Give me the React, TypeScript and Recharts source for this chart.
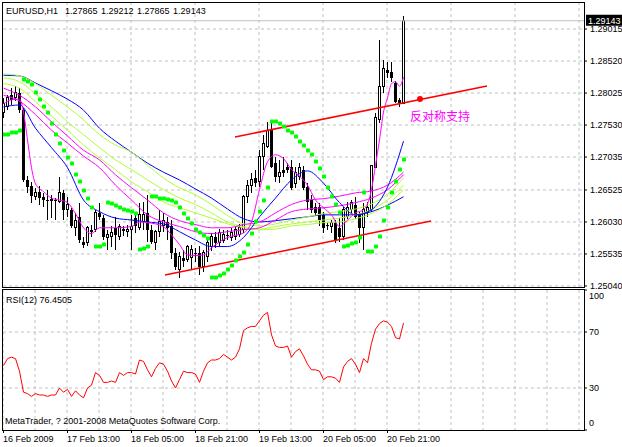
import React from 'react'
import {
  ComposedChart,
  LineChart,
  Line,
  Bar,
  Scatter,
  XAxis,
  YAxis,
  CartesianGrid,
  ReferenceLine,
  ReferenceDot,
} from 'recharts'

// EURUSD H1 bars, 16 Feb 2009 .. 20 Feb 2009
const opens = [
  1.2773, 1.2782, 1.2799, 1.2795, 1.2803, 1.2776, 1.2668, 1.2659, 1.2642, 1.265,
  1.2642, 1.2637, 1.2636, 1.2637, 1.2634, 1.2648, 1.2622, 1.2622, 1.2594, 1.2611,
  1.2572, 1.2571, 1.2591, 1.2591, 1.2617, 1.2609, 1.2579, 1.258, 1.2594, 1.258,
  1.2592, 1.2588, 1.2592, 1.2609, 1.2594, 1.2603, 1.2617, 1.2591, 1.2572, 1.2588,
  1.2597, 1.2603, 1.2596, 1.2555, 1.2529, 1.2548, 1.2545, 1.2548, 1.2555, 1.2555,
  1.2534, 1.2549, 1.2565, 1.2579, 1.2571, 1.2575, 1.2583, 1.2579, 1.258, 1.2583,
  1.2591, 1.2642, 1.266, 1.2671, 1.2665, 1.2704, 1.2719, 1.2745, 1.2694, 1.2673,
  1.2684, 1.2688, 1.2688, 1.2663, 1.2673, 1.2684, 1.2657, 1.2637, 1.2626, 1.2626,
  1.2614, 1.2599, 1.2596, 1.2602, 1.2594, 1.258, 1.2611, 1.2622, 1.263, 1.2614,
  1.2594, 1.2617, 1.2622, 1.2688, 1.2761, 1.2812, 1.2838, 1.2835, 1.2818, 1.2792,
  1.27865,
]
const highs = [
  1.2795, 1.2799, 1.281, 1.2813, 1.281, 1.2779, 1.2674, 1.2665, 1.2656, 1.2659,
  1.2648, 1.2653, 1.2645, 1.264, 1.2673, 1.2653, 1.2642, 1.2625, 1.2617, 1.2633,
  1.2579, 1.2597, 1.2599, 1.2622, 1.2633, 1.2614, 1.2591, 1.2596, 1.2611, 1.26,
  1.2597, 1.2599, 1.2614, 1.2617, 1.2633, 1.2634, 1.2645, 1.2599, 1.2591, 1.2622,
  1.2617, 1.2611, 1.2606, 1.2563, 1.2557, 1.256, 1.2568, 1.2568, 1.2563, 1.2566,
  1.256, 1.2579, 1.2586, 1.2588, 1.2592, 1.2591, 1.2591, 1.2594, 1.2597, 1.26,
  1.2645, 1.2668, 1.2679, 1.2684, 1.2714, 1.2738, 1.2758, 1.2761, 1.2704, 1.2699,
  1.2704, 1.2694, 1.2699, 1.2688, 1.2694, 1.269, 1.2663, 1.2645, 1.2633, 1.2633,
  1.2619, 1.2603, 1.2606, 1.2606, 1.2609, 1.2626, 1.2634, 1.2637, 1.2642, 1.2619,
  1.2633, 1.2634, 1.2691, 1.2772, 1.2885, 1.2854, 1.2851, 1.2851, 1.2821, 1.2795,
  1.29212,
]
const lows = [
  1.2764, 1.2776, 1.2784, 1.279, 1.2772, 1.2665, 1.2648, 1.2633, 1.2637, 1.263,
  1.2626, 1.2606, 1.2609, 1.2606, 1.2633, 1.2606, 1.2611, 1.2594, 1.2582, 1.2571,
  1.2562, 1.2566, 1.2579, 1.2588, 1.2606, 1.2575, 1.256, 1.2565, 1.256, 1.2575,
  1.2582, 1.2579, 1.256, 1.2586, 1.2591, 1.2591, 1.2572, 1.2569, 1.256, 1.258,
  1.2588, 1.2575, 1.2545, 1.2528, 1.2517, 1.2534, 1.2541, 1.2529, 1.2541, 1.2521,
  1.2526, 1.2541, 1.2558, 1.2563, 1.2566, 1.2571, 1.2575, 1.2574, 1.2575, 1.258,
  1.2586, 1.2633, 1.2648, 1.2657, 1.2657, 1.2684, 1.2718, 1.2687, 1.2665, 1.2663,
  1.2673, 1.2679, 1.2653, 1.2656, 1.2668, 1.2653, 1.2622, 1.2617, 1.2613, 1.2596,
  1.2586, 1.2591, 1.2586, 1.2571, 1.2572, 1.2575, 1.2608, 1.2617, 1.2608, 1.2571,
  1.256, 1.2611, 1.2619, 1.2687, 1.2756, 1.2803, 1.2826, 1.282, 1.2787, 1.2781,
  1.27865,
]
const closes = [
  1.2787, 1.2795, 1.2792, 1.2804, 1.2776, 1.2668, 1.2657, 1.2643, 1.2648, 1.264,
  1.2637, 1.2636, 1.2637, 1.2636, 1.2648, 1.2622, 1.263, 1.2597, 1.2606, 1.2575,
  1.2568, 1.2594, 1.2588, 1.2617, 1.2611, 1.258, 1.2583, 1.2586, 1.2583, 1.2596,
  1.2589, 1.2592, 1.2596, 1.2596, 1.2614, 1.2614, 1.2591, 1.2572, 1.2588, 1.2603,
  1.2605, 1.2594, 1.2555, 1.2534, 1.2549, 1.2543, 1.2565, 1.256, 1.2554, 1.2534,
  1.2555, 1.2571, 1.258, 1.2571, 1.2586, 1.2583, 1.2582, 1.2586, 1.2591, 1.2594,
  1.2642, 1.266, 1.2668, 1.2664, 1.2704, 1.2725, 1.2745, 1.2688, 1.2673, 1.268,
  1.2679, 1.2684, 1.2656, 1.268, 1.2688, 1.2656, 1.2634, 1.2622, 1.2617, 1.2606,
  1.2594, 1.2597, 1.2602, 1.2575, 1.2579, 1.2622, 1.2626, 1.2633, 1.2611, 1.2594,
  1.2622, 1.2626, 1.2691, 1.2764, 1.2812, 1.2841, 1.2834, 1.2826, 1.2789, 1.2787,
  1.29143,
]

// parabolic SAR, one dot per bar
const sar = [
  1.2738, 1.2739, 1.2741, 1.2742, 1.2745, 1.2824, 1.2821, 1.2815, 1.2804, 1.2793,
  1.2782, 1.2772, 1.2755, 1.2739, 1.2725, 1.2713, 1.2702, 1.2693, 1.2677, 1.2665,
  1.2651, 1.264, 1.2626, 1.2565, 1.2565, 1.2568, 1.2633, 1.2631, 1.2628, 1.2625,
  1.2623, 1.262, 1.2619, 1.2616, 1.256, 1.2562, 1.2565, 1.2642, 1.2642, 1.264,
  1.2639, 1.2637, 1.2636, 1.2633, 1.2625, 1.2616, 1.2608, 1.26, 1.2591, 1.2586,
  1.2582, 1.2577, 1.2517, 1.2517, 1.252, 1.2523, 1.2529, 1.2535, 1.2543, 1.2549,
  1.2555, 1.2568, 1.2585, 1.2603, 1.2619, 1.2636, 1.2656, 1.2759, 1.2759, 1.2755,
  1.275, 1.2745, 1.2741, 1.2735, 1.2727, 1.2721, 1.2713, 1.2707, 1.2696, 1.2685,
  1.2673, 1.2657, 1.2642, 1.263, 1.2617, 1.2565, 1.2566, 1.2569, 1.2571, 1.2579,
  1.2648, 1.2558, 1.2558, 1.2565, 1.258, 1.2605, 1.2626, 1.2648, 1.2665, 1.2684,
  1.2699,
]

// RSI(12)
const rsi = [
  46, 51, 52, 51, 42, 27, 26, 24, 26, 25,
  25, 24, 25, 25, 30, 27, 29, 24, 28, 25,
  23, 30, 32, 41, 39, 34, 34, 35, 34, 41,
  39, 41, 41, 40, 50, 49, 43, 38, 44, 48,
  47, 42, 35, 30, 36, 42, 41, 41, 40, 34,
  42, 48, 50, 50, 51, 54, 52, 50, 52, 58,
  71, 73, 74, 74, 78, 82, 84, 68, 60, 59,
  59, 60, 52, 56, 58, 53, 47, 43, 43, 42,
  36, 38, 38, 37, 34, 45, 49, 51, 47, 41,
  51, 48, 62, 72, 76, 78, 77, 74, 66, 65,
  76.4505,
]

// moving averages, read every 4th bar
const maIdx = [0, 4, 8, 12, 16, 20, 24, 28, 32, 36, 40, 44, 48, 52, 56, 60, 64, 68, 72, 76, 80, 84, 88, 92, 96, 100]
const blueSlow = [
  1.283, 1.2829, 1.2818, 1.2806, 1.2793, 1.2776, 1.2748, 1.2728, 1.2711, 1.2694, 1.268, 1.2668, 1.2654,
  1.264, 1.2623, 1.2608, 1.2603, 1.2605, 1.2608, 1.2611, 1.2614, 1.2614, 1.2614, 1.2619, 1.2629, 1.2642,
]
const blueMid = [
  1.2781, 1.2784, 1.2748, 1.2718, 1.2687, 1.2637, 1.2619, 1.2609, 1.2606, 1.2603, 1.26, 1.2588, 1.2575,
  1.2565, 1.2565, 1.2579, 1.2611, 1.264, 1.2668, 1.2682, 1.2663, 1.2633, 1.2614, 1.2622, 1.2657, 1.2728,
]
const magA = [
  1.281, 1.2799, 1.2781, 1.2758, 1.2736, 1.2714, 1.2699, 1.2676, 1.2656, 1.2637, 1.2617, 1.2605, 1.2599,
  1.2594, 1.2594, 1.2599, 1.2603, 1.2617, 1.263, 1.2637, 1.2639, 1.2643, 1.2648, 1.2651, 1.266, 1.268,
]
const magB = [
  1.2799, 1.279, 1.2769, 1.2745, 1.2725, 1.2705, 1.2687, 1.266, 1.2637, 1.2614, 1.2603, 1.2596, 1.2588,
  1.2585, 1.2588, 1.2591, 1.2594, 1.2606, 1.2619, 1.2623, 1.2625, 1.2628, 1.2633, 1.264, 1.2653, 1.2676,
]
const ygA = [
  1.2832, 1.2829, 1.2817, 1.2799, 1.2781, 1.2761, 1.2738, 1.2722, 1.2711, 1.2691, 1.2671, 1.2656, 1.2645,
  1.263, 1.2613, 1.26, 1.2597, 1.26, 1.2606, 1.2611, 1.2616, 1.2619, 1.2623, 1.2631, 1.2646, 1.2671,
]
const ygB = [
  1.2826, 1.282, 1.2801, 1.2781, 1.2758, 1.2738, 1.2718, 1.2699, 1.2684, 1.2668, 1.2653, 1.264, 1.263,
  1.2617, 1.2603, 1.2596, 1.2592, 1.2596, 1.26, 1.2603, 1.2606, 1.2609, 1.2614, 1.2622, 1.2637, 1.266,
]
const ygC = [
  1.2817, 1.281, 1.2789, 1.2767, 1.2745, 1.2722, 1.2702, 1.2684, 1.2665, 1.265, 1.2634, 1.2625, 1.2617,
  1.2609, 1.26, 1.2594, 1.2591, 1.2592, 1.2597, 1.2599, 1.2602, 1.2603, 1.2608, 1.2616, 1.263, 1.2653,
]
const fastIdx = [
  0, 2, 4, 5, 6, 7, 8, 10, 12, 14, 16, 18, 20, 22, 24, 28, 32, 34, 36, 40, 42, 44, 46, 48, 50, 52,
  56, 60, 62, 64, 66, 68, 70, 72, 74, 76, 78, 80, 82, 84, 86, 88, 90, 92, 93, 94, 95, 96, 97, 98, 99, 100,
]
const magFast = [
  1.2786, 1.2792, 1.2793, 1.2773, 1.273, 1.2687, 1.2662, 1.265, 1.264, 1.2637, 1.2633, 1.2616, 1.2594,
  1.2585, 1.2594, 1.2594, 1.2596, 1.2603, 1.2602, 1.2596, 1.2583, 1.2568, 1.2552, 1.2551, 1.2552, 1.2563,
  1.2579, 1.2586, 1.2603, 1.2653, 1.2696, 1.2707, 1.2701, 1.2684, 1.2674, 1.266, 1.2637, 1.2625, 1.2614,
  1.2596, 1.2606, 1.2617, 1.2622, 1.2653, 1.2691, 1.273, 1.2773, 1.2795, 1.2817, 1.282, 1.2813, 1.2827,
]

// drawn objects (bar index, price)
const upperTrend = [{ x: 57.875, y: 1.27345 }, { x: 120.875, y: 1.28134 }]
const lowerTrend = [{ x: 40.375, y: 1.2521 }, { x: 106.875, y: 1.26045 }]
const markDot = { x: 104.125, y: 1.27933 }
const lastPrice = 1.29143

const priceTicks = [1.2504, 1.25535, 1.2603, 1.26525, 1.27035, 1.2753, 1.28025, 1.2852, 1.29015]
const rsiTicks = [0, 30, 70, 100]
const dateTickIdx = [0, 16, 32, 48, 64, 80, 96]
const dateLabels = ['16 Feb 2009', '17 Feb 13:00', '18 Feb 05:00', '18 Feb 21:00', '19 Feb 13:00', '20 Feb 05:00', '20 Feb 21:00']

const FONT = '"Liberation Sans", Arial, sans-serif'
const X_DOMAIN = [-0.125, 145.125]
const gridIdx = Array.from({ length: 19 }, (_, k) => k * 8 - 0.125)
const GRID = '#c0c0c0'

const rows: any[] = opens.map((o, i) => ({
  i,
  o,
  h: highs[i],
  l: lows[i],
  c: closes[i],
  range: [lows[i], highs[i]],
  sar: sar[i],
  rsi: rsi[i],
}))
const put = (key: string, idx: number[], vals: number[]) =>
  idx.forEach((ix, k) => {
    rows[ix][key] = vals[k]
  })
put('blueSlow', maIdx, blueSlow)
put('blueMid', maIdx, blueMid)
put('magA', maIdx, magA)
put('magB', maIdx, magB)
put('ygA', maIdx, ygA)
put('ygB', maIdx, ygB)
put('ygC', maIdx, ygC)
put('magFast', fastIdx, magFast)

const Candle = (props: any) => {
  const { x, y, width, height, payload } = props
  const { o, h, l, c } = payload
  const top0 = Math.min(y, y + height)
  const hh = Math.abs(height)
  const cx = x + width / 2
  const k = h > l ? hh / (h - l) : 0
  const top = top0 + (h - Math.max(o, c)) * k
  const bot = top0 + (h - Math.min(o, c)) * k
  const up = c >= o
  return (
    <g shapeRendering="crispEdges">
      <line x1={cx} x2={cx} y1={top0} y2={top0 + hh} stroke="#000" />
      {up ? (
        <rect x={cx - 1} y={top} width={2} height={Math.max(bot - top, 0.5)} fill="#fff" stroke="#000" />
      ) : (
        <rect x={cx - 1.5} y={top} width={3} height={Math.max(bot - top, 1)} fill="#000" />
      )}
    </g>
  )
}

const SarDot = (p: any) => (
  <rect
    x={Math.floor(p.cx) - 1}
    y={Math.floor(p.cy) - 1.5}
    width={4}
    height={4}
    rx={0.8}
    fill="#00ff00"
  />
)

const PriceTag = (p: any) => {
  const vb = p.viewBox
  const x = vb.x + vb.width
  const y = vb.y
  return (
    <g>
      <rect x={x + 2} y={y - 6} width={36} height={11} fill="#000" />
      <text x={x + 4} y={y + 3} fill="#fff" fontSize={9} fontFamily={FONT}>
        {lastPrice.toFixed(5)}
      </text>
    </g>
  )
}

const DateTick = (p: any) => {
  const { x, y, payload } = p
  const n = dateTickIdx.indexOf(payload.value)
  return (
    <g>
      <line x1={x - 0.5} x2={x - 0.5} y1={y} y2={y + 3} stroke="#000" shapeRendering="crispEdges" />
      <text x={x - 0.5} y={y + 12} fontSize={9} fontFamily={FONT} fill="#000">
        {n >= 0 ? dateLabels[n] : ''}
      </text>
    </g>
  )
}

const RsiTick = (p: any) => {
  const { x, y, payload } = p
  const v = payload.value
  const dy = v === 100 ? 6 : v === 0 ? -7 : 0
  return (
    <text x={x} y={y + dy + 3} fontSize={9} fontFamily={FONT} fill="#000">
      {v}
    </text>
  )
}

const txt = (left: number, top: number, extra: any = {}) => ({
  position: 'absolute' as const,
  left,
  top,
  fontFamily: FONT,
  fontSize: 9,
  lineHeight: '10px',
  whiteSpace: 'pre' as const,
  color: '#000',
  ...extra,
})

const frame = (left: number, top: number, width: number, height: number) => ({
  position: 'absolute' as const,
  left,
  top,
  width,
  height,
  border: '1px solid #000',
  boxSizing: 'border-box' as const,
  pointerEvents: 'none' as const,
})

export default function App() {
  return (
    <div style={{ position: 'absolute', left: 0, top: 0, width: 622, height: 447, background: '#fff', overflow: 'hidden' }}>
      <div style={{ position: 'absolute', left: 0, top: 0 }}>
        <ComposedChart width={622} height={293} data={rows} margin={{ top: 2, right: 0, left: 3, bottom: 6 }}>
          <CartesianGrid
            stroke={GRID}
            strokeDasharray="3 3"
            verticalValues={gridIdx}
            horizontalValues={priceTicks}
          />
          <XAxis dataKey="i" type="number" domain={X_DOMAIN} allowDataOverflow hide ticks={gridIdx} />
          <YAxis
            orientation="right"
            width={38}
            domain={[1.25024, 1.29433]}
            allowDataOverflow
            ticks={priceTicks}
            interval={0}
            tickFormatter={(v: number) => v.toFixed(5)}
            axisLine={false}
            tickLine={{ stroke: '#000' }}
            tickSize={3}
            tickMargin={3}
            tick={{ fontSize: 9, fill: '#000', fontFamily: FONT }}
          />
          <ReferenceLine y={lastPrice} stroke={GRID} label={PriceTag} />
          <Bar dataKey="range" barSize={3} shape={Candle} isAnimationActive={false} />
          <Line dataKey="blueSlow" type="monotone" stroke="#0000ff" strokeWidth={1} dot={false} connectNulls isAnimationActive={false} />
          <Line dataKey="ygA" type="monotone" stroke="#adff2f" strokeWidth={1} dot={false} connectNulls isAnimationActive={false} />
          <Line dataKey="ygB" type="monotone" stroke="#adff2f" strokeWidth={1} dot={false} connectNulls isAnimationActive={false} />
          <Line dataKey="ygC" type="monotone" stroke="#adff2f" strokeWidth={1} dot={false} connectNulls isAnimationActive={false} />
          <Line dataKey="magA" type="monotone" stroke="#ff00ff" strokeWidth={1} dot={false} connectNulls isAnimationActive={false} />
          <Line dataKey="magB" type="monotone" stroke="#ff00ff" strokeWidth={1} dot={false} connectNulls isAnimationActive={false} />
          <Line dataKey="blueMid" type="monotone" stroke="#0000ff" strokeWidth={1} dot={false} connectNulls isAnimationActive={false} />
          <Line dataKey="magFast" type="monotone" stroke="#ff00ff" strokeWidth={1} dot={false} connectNulls isAnimationActive={false} />
          <Scatter dataKey="sar" shape={SarDot} isAnimationActive={false} />
          <ReferenceLine segment={upperTrend} stroke="#ff0000" strokeWidth={1.5} />
          <ReferenceLine segment={lowerTrend} stroke="#ff0000" strokeWidth={1.5} />
          <ReferenceDot x={markDot.x} y={markDot.y} r={3} fill="#ff0000" stroke="none" />
        </ComposedChart>
      </div>
      <div style={{ position: 'absolute', left: 0, top: 289 }}>
        <LineChart width={622} height={158} data={rows} margin={{ top: 1, right: 0, left: 3, bottom: 0 }}>
          <CartesianGrid stroke={GRID} strokeDasharray="3 3" verticalValues={gridIdx} horizontalValues={[30, 70]} />
          <XAxis
            dataKey="i"
            type="number"
            domain={X_DOMAIN}
            allowDataOverflow
            ticks={dateTickIdx}
            interval={0}
            height={17}
            axisLine={false}
            tickLine={false}
            tickSize={0}
            tickMargin={0}
            tick={DateTick}
          />
          <YAxis
            orientation="right"
            width={38}
            domain={[0, 100]}
            ticks={rsiTicks}
            interval={0}
            axisLine={false}
            tickLine={{ stroke: '#000' }}
            tickSize={3}
            tickMargin={2}
            tick={RsiTick}
          />
          <Line dataKey="rsi" type="linear" stroke="#ff0000" strokeWidth={1} dot={false} isAnimationActive={false} />
        </LineChart>
      </div>
      <div style={frame(2, 2, 583, 286)} />
      <div style={frame(2, 289, 583, 142)} />
      <div style={txt(6, 6, { wordSpacing: 1 })}>EURUSD,H1  1.27865 1.29212 1.27865 1.29143</div>
      <div style={txt(6, 295)}>RSI(12) 76.4505</div>
      <div style={txt(5, 416)}>MetaTrader, ? 2001-2008 MetaQuotes Software Corp.</div>
      <div
        style={{
          position: 'absolute',
          left: 410,
          top: 110,
          fontFamily: '"Noto Sans CJK SC", sans-serif',
          fontSize: 12,
          lineHeight: '12px',
          color: '#ff00ff',
          whiteSpace: 'pre',
        }}
      >
        反对称支持
      </div>
    </div>
  )
}
